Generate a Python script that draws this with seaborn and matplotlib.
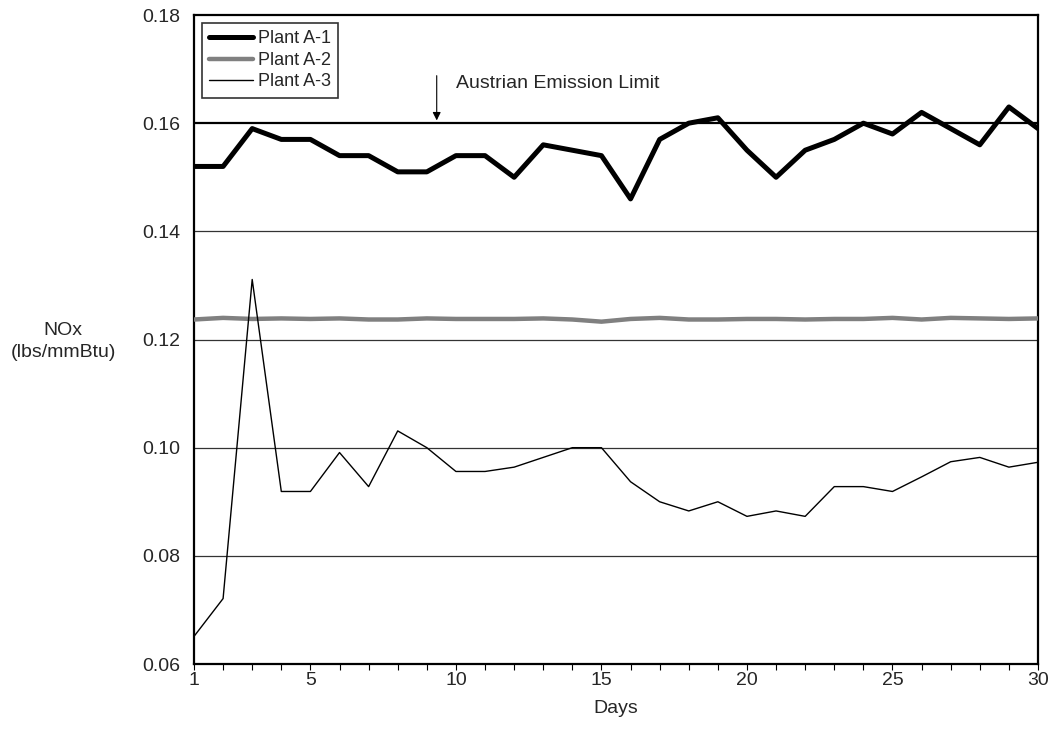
import matplotlib.pyplot as plt
import pandas as pd
import seaborn as sns

days = list(range(1, 31))
plant_a1 = [0.152, 0.152, 0.159, 0.157, 0.157, 0.154, 0.154, 0.151, 0.151, 0.154,
            0.154, 0.150, 0.156, 0.155, 0.154, 0.146, 0.157, 0.160, 0.161, 0.155,
            0.150, 0.155, 0.157, 0.160, 0.158, 0.162, 0.159, 0.156, 0.163, 0.159]
plant_a2 = [0.1237, 0.1240, 0.1238, 0.1239, 0.1238, 0.1239, 0.1237, 0.1237, 0.1239, 0.1238,
            0.1238, 0.1238, 0.1239, 0.1237, 0.1233, 0.1238, 0.1240, 0.1237, 0.1237, 0.1238,
            0.1238, 0.1237, 0.1238, 0.1238, 0.1240, 0.1237, 0.1240, 0.1239, 0.1238, 0.1239]
plant_a3 = [0.0651, 0.0721, 0.1311, 0.0919, 0.0919, 0.0991, 0.0928, 0.1031, 0.1000, 0.0956,
            0.0956, 0.0964, 0.0982, 0.1000, 0.1000, 0.0937, 0.0900, 0.0883, 0.0900, 0.0873,
            0.0883, 0.0873, 0.0928, 0.0928, 0.0919, 0.0946, 0.0974, 0.0982, 0.0964, 0.0973]
plants = ["Plant A-1", "Plant A-2", "Plant A-3"]
emission_limit = 0.16
y_ticks = [0.06, 0.08, 0.10, 0.12, 0.14, 0.16, 0.18]
x_labels = [1, 5, 10, 15, 20, 25, 30]

df = pd.DataFrame({"Days": days * 3,
                   "NOx": plant_a1 + plant_a2 + plant_a3,
                   "Plant": [p for p in plants for _ in days]})

sns.set_theme(style="white")
plt.rcParams["font.family"] = ["Liberation Sans", "DejaVu Sans"]
FS = 14

fig = plt.figure(figsize=(10.52, 7.4), dpi=100)
ax = fig.add_axes([0.1844, 0.1027, 0.8023, 0.877])

for y in y_ticks[1:-1]:
    if y == emission_limit:
        ax.axhline(y, color="black", lw=1.6, zorder=1)
    else:
        ax.axhline(y, color="#333333", lw=0.9, zorder=1)

sns.lineplot(data=df, x="Days", y="NOx", hue="Plant", size="Plant",
             palette={"Plant A-1": "black", "Plant A-2": "#808080", "Plant A-3": "black"},
             sizes={"Plant A-1": 3.6, "Plant A-2": 3.2, "Plant A-3": 1.0},
             ax=ax, zorder=3)

ax.set_xlim(1, 30)
ax.set_ylim(0.06, 0.18)
ax.set_yticks(y_ticks)
ax.set_yticklabels([f"{v:.2f}" for v in y_ticks], fontsize=FS)
ax.set_xticks(days, minor=True)
ax.set_xticks(x_labels)
ax.set_xticklabels([str(v) for v in x_labels], fontsize=FS)
ax.tick_params(axis="x", which="both", direction="out", length=4, width=0.8,
               color="black", bottom=True, pad=2)
ax.tick_params(axis="y", length=0, pad=10)
for s in ax.spines.values():
    s.set_color("black")
    s.set_linewidth(1.6)

ax.set_xlabel("Days", fontsize=FS, labelpad=8)
ax.set_ylabel("NOx\n(lbs/mmBtu)", fontsize=FS, rotation=0, labelpad=0,
              va="center", ha="center", linespacing=1.35)
ax.yaxis.set_label_coords(-0.155, 0.497)

leg = ax.legend(loc="upper left", bbox_to_anchor=(0.0, 1.0), fontsize=13,
                frameon=True, fancybox=False, edgecolor="black", handlelength=2.4,
                borderpad=0.4, labelspacing=0.25, handletextpad=0.3, borderaxespad=0.45)
leg.get_frame().set_linewidth(1.2)

ax.annotate("", xy=(9.34, emission_limit), xytext=(9.34, 0.1693),
            arrowprops=dict(arrowstyle="-|>", color="black", lw=0.8, mutation_scale=12))
ax.text(9.99, 0.1673, "Austrian Emission Limit", fontsize=FS, va="center", ha="left")

fig.savefig("out.png", dpi=100)
